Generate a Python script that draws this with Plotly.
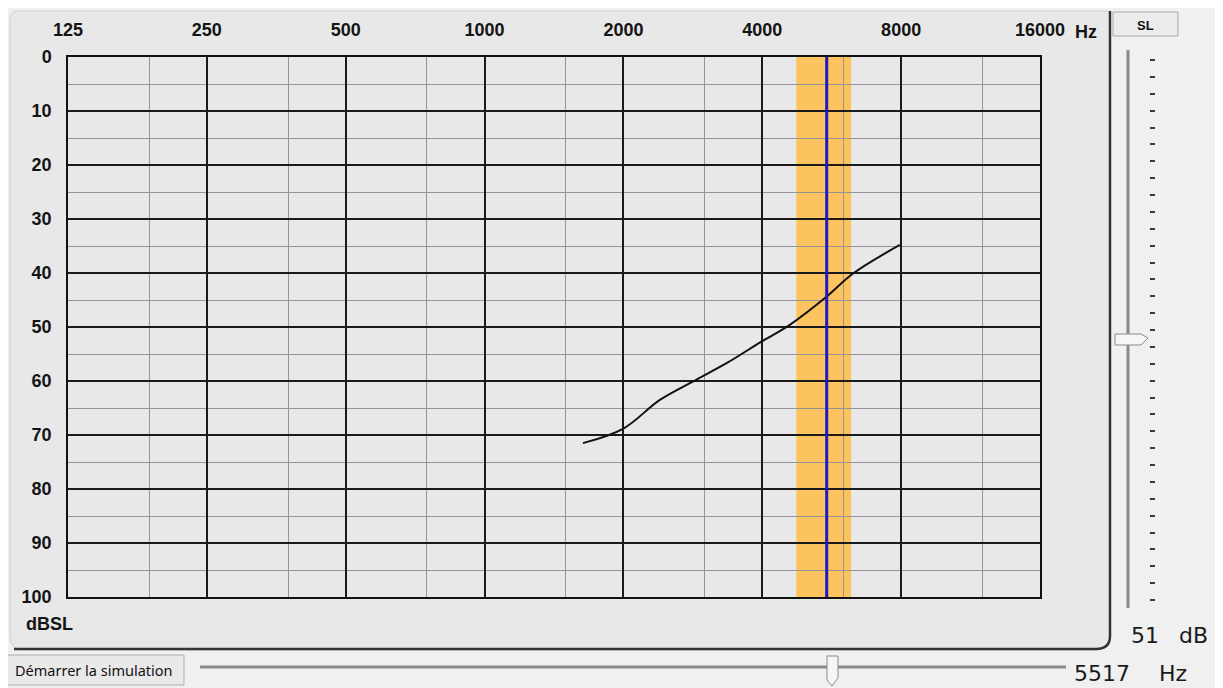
"""Audiogram-style simulator panel: threshold curve with the current test frequency."""

import math

import plotly.graph_objects as go

# the page puts the figure 8 px in from the top-left corner
OFF = 8
W, H = 1223 - OFF, 688 - OFF

# audiogram axes
freq_ticks = [125, 250, 500, 1000, 2000, 4000, 8000, 16000]
freq_tick_text = ["125", "250", "500", "1000", "2000", "4000", "8000", "16000"]
freq_minor = [187.5, 375, 750, 1500, 3000, 6000, 12000]
db_ticks = [0, 10, 20, 30, 40, 50, 60, 70, 80, 90, 100]

# hearing threshold curve (Hz, dB SL)
curve_freq = [1634, 2000, 2399, 2828, 3346, 3984, 4589, 5511, 6293, 7945]
curve_db = [71.5, 68.8, 63.5, 60.1, 56.7, 52.7, 49.6, 44.4, 40.1, 34.8]

# current stimulus
cursor_freq = 5517
cursor_db = 51
band_lo, band_hi = 4740, 6230

# slider graduations on the SL scale
sl_steps = list(range(33))


def px(x):
    return (x - OFF) / W


def py(y):
    return 1 - (y - OFF) / H


fig = go.Figure()

fig.add_trace(go.Scatter(
    x=curve_freq, y=curve_db, mode="lines",
    line=dict(color="#111111", width=2, shape="spline", smoothing=1.0),
    hoverinfo="skip", showlegend=False,
))
fig.add_trace(go.Scatter(
    x=[cursor_freq, cursor_freq], y=[db_ticks[0], db_ticks[-1]], mode="lines",
    line=dict(color="#1c18c8", width=3),
    hoverinfo="skip", showlegend=False,
))
# invisible trace that carries the SL slider graduations
fig.add_trace(go.Scatter(
    x=[0], y=[sl_steps[0]], xaxis="x2", yaxis="y2", mode="markers",
    marker=dict(opacity=0), hoverinfo="skip", showlegend=False,
))

# frequency band around the stimulus (data-referenced so it sits above the plot background)
fig.add_shape(type="rect", xref="x", yref="y",
              x0=band_lo, x1=band_hi, y0=db_ticks[-1], y1=db_ticks[0],
              fillcolor="#fcc35e", opacity=1, line_width=0, layer="below")

label_font = dict(family="Liberation Sans", size=18, color="#141414", weight="bold")

fig.update_layout(
    width=W, height=H,
    margin=dict(l=0, r=0, t=0, b=0, autoexpand=False),
    paper_bgcolor="#f0f0f0",
    plot_bgcolor="#f2f2f2",
    xaxis=dict(
        type="log", range=[math.log10(freq_ticks[0]), math.log10(freq_ticks[-1])],
        domain=[px(68), px(1040)], side="top", automargin=False,
        tickmode="array", tickvals=freq_ticks, ticktext=freq_tick_text,
        ticks="", ticklabelstandoff=12, tickfont=label_font,
        showgrid=True, gridcolor="#1a1a1a", gridwidth=1.5,
        minor=dict(tickmode="array", tickvals=freq_minor, showgrid=True,
                   gridcolor="#959595", gridwidth=1, ticks=""),
        showline=True, mirror=True, linecolor="#111111", linewidth=1.5,
        zeroline=False, fixedrange=True,
    ),
    yaxis=dict(
        range=[db_ticks[-1], db_ticks[0]],
        domain=[py(597), py(57)], automargin=False,
        tickmode="array", tickvals=db_ticks,
        ticks="", ticklabelstandoff=11, tickfont=label_font,
        showgrid=True, gridcolor="#1a1a1a", gridwidth=1.5,
        minor=dict(dtick=5, showgrid=True, gridcolor="#959595", gridwidth=1, ticks=""),
        showline=True, mirror=True, linecolor="#111111", linewidth=1.5,
        zeroline=False, fixedrange=True,
    ),
    # near-zero-width helper subplot so its background does not show
    xaxis2=dict(domain=[px(1200), px(1200.3)], visible=False, range=[0, 1],
                fixedrange=True, automargin=False),
    yaxis2=dict(
        domain=[py(600), py(60)], range=[sl_steps[-1], sl_steps[0]],
        anchor="free", position=px(1149), side="right", automargin=False,
        tickmode="array", tickvals=sl_steps, ticks="outside", ticklen=5,
        tickwidth=2, tickcolor="#3a3a3a", showticklabels=False,
        showgrid=False, showline=False, zeroline=False, fixedrange=True,
    ),
)

# window chrome: panel, buttons, sliders
shapes = [
    dict(type="path",
         path=f"M {px(10)},{py(20)} Q {px(10)},{py(11)} {px(18)},{py(11)} "
              f"L {px(1110)},{py(11)} L {px(1110)},{py(636)} "
              f"Q {px(1110)},{py(650)} {px(1096)},{py(650)} "
              f"L {px(24)},{py(650)} Q {px(10)},{py(650)} {px(10)},{py(636)} Z",
         fillcolor="#e8e8e8", line=dict(color="#d0d0d0", width=1)),
    dict(type="path",
         path=f"M {px(14)},{py(649)} L {px(1096)},{py(649)} "
              f"Q {px(1110)},{py(649)} {px(1110)},{py(636)} L {px(1110)},{py(11)}",
         line=dict(color="#333333", width=2.5)),
    # SL button
    dict(type="rect", x0=px(1113), x1=px(1178), y0=py(36), y1=py(12),
         fillcolor="#ececec", line=dict(color="#a8a8a8", width=1)),
    # vertical slider track and thumb
    dict(type="line", x0=px(1128), x1=px(1128), y0=py(608), y1=py(50),
         line=dict(color="#8a8a8a", width=3)),
    dict(type="path",
         path=f"M {px(1115)},{py(334)} L {px(1141)},{py(334)} L {px(1148)},{py(338)} "
              f"L {px(1141)},{py(345)} L {px(1115)},{py(345)} Z",
         fillcolor="#f6f6f6", line=dict(color="#8a8a8a", width=1)),
    # start button
    dict(type="rect", x0=px(4), x1=px(184), y0=py(685), y1=py(655),
         fillcolor="#e9e9e9", line=dict(color="#adadad", width=1)),
    # horizontal slider track and thumb
    dict(type="line", x0=px(200), x1=px(1066), y0=py(667), y1=py(667),
         line=dict(color="#8a8a8a", width=3)),
    dict(type="path",
         path=f"M {px(827)},{py(656)} L {px(838)},{py(656)} L {px(838)},{py(678)} "
              f"L {px(832)},{py(686)} L {px(827)},{py(680)} Z",
         fillcolor="#f6f6f6", line=dict(color="#8a8a8a", width=1)),
]
for s in shapes:
    s.update(xref="paper", yref="paper", layer="below")
    fig.add_shape(**s)

ui_font = dict(family="DejaVu Sans", size=22, color="#1a1a1a")
annotations = [
    dict(x=px(1073), y=py(32), text="Hz", xanchor="left", font=label_font),
    dict(x=px(24), y=py(624), text="dBSL", xanchor="left", font=label_font),
    dict(x=px(1145), y=py(25), text="SL", xanchor="center",
         font=dict(family="Liberation Sans", size=13, color="#111111", weight="bold")),
    dict(x=px(94), y=py(670), text="Démarrer la simulation", xanchor="center",
         font=dict(family="Noto Sans", size=14.5, color="#111111")),
    dict(x=px(1129), y=py(635), text=f"{cursor_db}", xanchor="left", font=ui_font),
    dict(x=px(1177), y=py(635), text="dB", xanchor="left", font=ui_font),
    dict(x=px(1072), y=py(673), text=f"{cursor_freq}", xanchor="left", font=ui_font),
    dict(x=px(1157), y=py(673), text="Hz", xanchor="left", font=ui_font),
]
for a in annotations:
    a.update(xref="paper", yref="paper", yanchor="middle", showarrow=False)
    fig.add_annotation(**a)

fig.write_html("out.html")
